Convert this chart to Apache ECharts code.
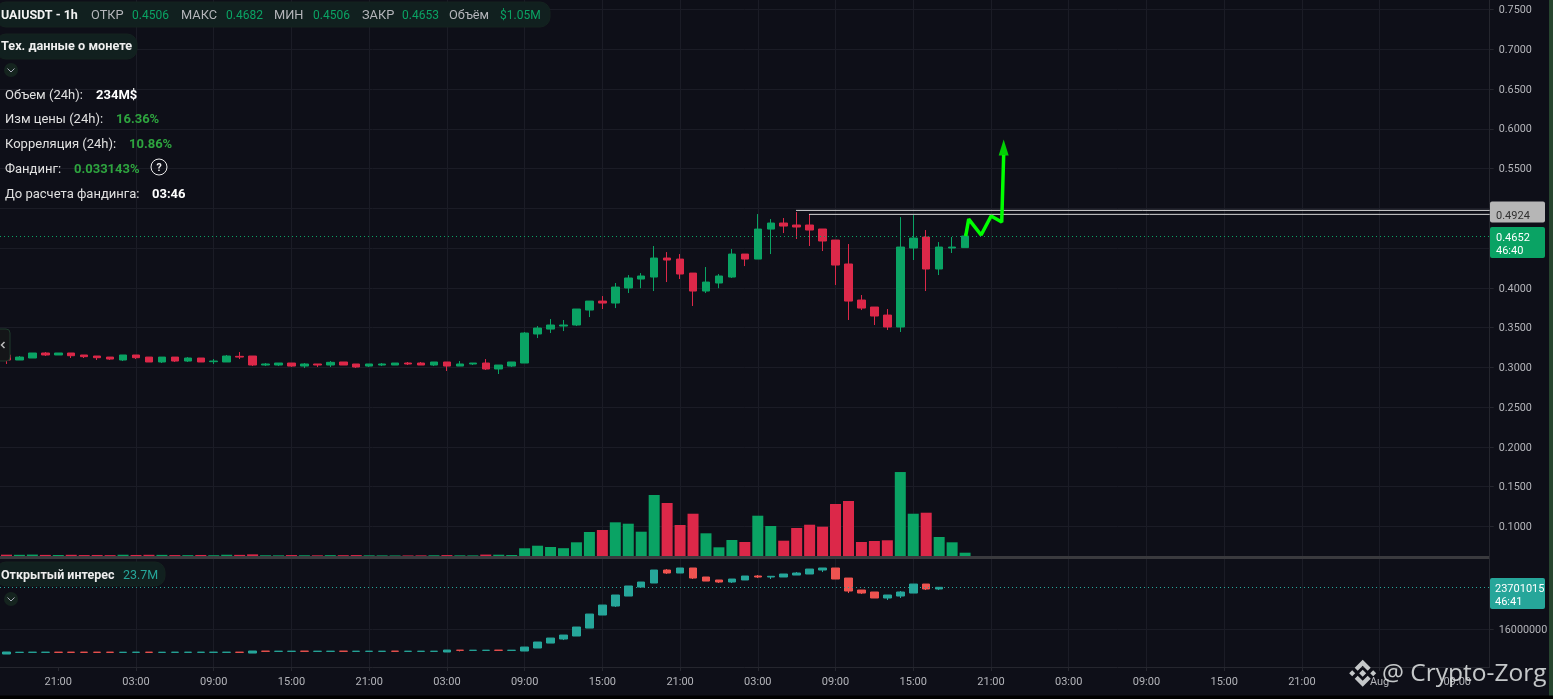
<!DOCTYPE html>
<html><head><meta charset="utf-8">
<style>html,body{margin:0;padding:0;background:#0e0f18;overflow:hidden}#c{width:1553px;height:699px}</style>
<script src="https://cdn.jsdelivr.net/npm/echarts@6/dist/echarts.min.js"></script></head>
<body><div id="c"></div>
<script>
const categories = [
'17:00','18:00','19:00','20:00','21:00','22:00','23:00','00:00','01:00','02:00','03:00','04:00','05:00','06:00','07:00','08:00','09:00','10:00','11:00','12:00','13:00','14:00','15:00','16:00',
'17:00','18:00','19:00','20:00','21:00','22:00','23:00','00:00','01:00','02:00','03:00','04:00','05:00','06:00','07:00','08:00','09:00','10:00','11:00','12:00','13:00','14:00','15:00','16:00',
'17:00','18:00','19:00','20:00','21:00','22:00','23:00','00:00','01:00','02:00','03:00','04:00','05:00','06:00','07:00','08:00','09:00','10:00','11:00','12:00','13:00','14:00','15:00','16:00',
'17:00','18:00','19:00','20:00','21:00','22:00','23:00','00:00','01:00','02:00','03:00','04:00','05:00','06:00','07:00','08:00','09:00','10:00','11:00','12:00','13:00','14:00','15:00','16:00',
'17:00','18:00','19:00','20:00','21:00','22:00','23:00','00:00','01:00','02:00','Aug','04:00','05:00','06:00','07:00','08:00','09:00','10:00','11:00'];
const tickLabels = ['21:00','03:00','09:00','15:00','Aug'];
const priceTicks = [0.75,0.7,0.65,0.6,0.55,0.5,0.45,0.4,0.35,0.3,0.25,0.2,0.15,0.1];
const oiTicks = [16000000];
// [open, close, low, high]
const priceCandles = [
[.3156,.3093,.3043,.3156],[.3093,.3130,.3093,.3143],[.3118,.3181,.3118,.3181],[.3181,.3156,.3143,.3193],[.3156,.3181,.3156,.3181],
[.3181,.3147,.3118,.3181],[.3156,.3135,.3118,.3156],[.3143,.3122,.3093,.3143],[.3130,.3105,.3093,.3130],[.3093,.3156,.3080,.3156],
[.3156,.3122,.3105,.3156],[.3130,.3068,.3068,.3130],[.3068,.3130,.3055,.3130],[.3130,.3080,.3068,.3130],[.3080,.3118,.3068,.3130],
[.3118,.3068,.3068,.3118],[.3072,.3080,.3043,.3105],[.3068,.3143,.3068,.3156],[.3139,.3130,.3105,.3193],[.3143,.3030,.3017,.3143],
[.3030,.3043,.3017,.3055],[.3030,.3055,.3017,.3055],[.3055,.3017,.3005,.3055],[.3017,.3043,.2992,.3055],[.3043,.3030,.3005,.3043],
[.3030,.3064,.3005,.3080],[.3068,.3030,.3030,.3068],[.3043,.3005,.2992,.3043],[.3017,.3043,.3005,.3043],[.3030,.3043,.3017,.3055],
[.3030,.3055,.3030,.3055],[.3055,.3043,.3030,.3068],[.3055,.3030,.3030,.3068],[.3030,.3068,.3017,.3068],[.3068,.3017,.2955,.3068],
[.3017,.3043,.3017,.3080],[.3043,.3055,.3030,.3055],[.3055,.2980,.2967,.3105],[.2980,.3030,.2917,.3030],[.3017,.3068,.3005,.3068],
[.3055,.3432,.3055,.3445],[.3420,.3495,.3369,.3520],[.3482,.3533,.3432,.3608],[.3520,.3533,.3457,.3596],[.3533,.3734,.3520,.3734],
[.3721,.3834,.3633,.3834],[.3834,.3809,.3734,.3897],[.3809,.4010,.3746,.4061],[.3998,.4124,.3935,.4161],[.4111,.4149,.3996,.4186],
[.4136,.4375,.3960,.4526],[.4375,.4350,.4073,.4450],[.4362,.4174,.4111,.4425],[.4186,.3960,.3772,.4186],[.3960,.4073,.3935,.4262],
[.4061,.4149,.3996,.4174],[.4136,.4425,.4124,.4488],[.4425,.4362,.4274,.4425],[.4362,.4739,.4362,.4928],[.4739,.4815,.4425,.4865],
[.4815,.4777,.4689,.4878],[.4790,.4765,.4614,.4953],[.4790,.4727,.4526,.4928],[.4740,.4589,.4463,.4740],[.4601,.4287,.4036,.4601],
[.4300,.3834,.3596,.4551],[.3847,.3746,.3721,.3910],[.3759,.3646,.3533,.3759],[.3658,.3508,.3470,.3734],[.3508,.4513,.3445,.4890],
[.4501,.4626,.4350,.4915],[.4639,.4237,.3960,.4727],[.4237,.4513,.4161,.4576],[.4501,.4513,.4438,.4639],[.4506,.4652,.4506,.4682]];
// volume per candle, $M
const volumes = [.42,.38,.45,.35,.32,.38,.30,.33,.28,.40,.33,.38,.36,.30,.28,.33,.25,.40,.36,.52,.24,.22,.30,.24,.22,.28,.26,.30,.22,.20,.18,.18,.20,.24,.30,.22,.20,.45,
.41,.32,2.45,3.27,2.86,2.48,4.35,7.62,8.26,10.7,10.26,7.72,19.37,16.83,9.85,13.43,7.21,2.76,5.08,4.45,12.8,9.53,4.86,8.89,9.94,9.31,16.51,17.47,4.45,4.76,4.99,26.67,13.43,13.75,6.03,4.35,1.05];
// open interest, millions: [open, close, low, high]
const oiCandles = [
[11.47,11.84,11.47,11.84],[11.77,11.79,11.77,11.79],[11.78,11.80,11.78,11.80],[11.78,11.80,11.78,11.80],[11.80,11.78,11.78,11.80],
[11.80,11.78,11.78,11.80],[11.80,11.78,11.78,11.80],[11.80,11.78,11.78,11.80],[11.80,11.78,11.78,11.80],[11.77,11.79,11.77,11.79],
[11.78,11.80,11.78,11.80],[11.80,11.78,11.78,11.80],[11.77,11.79,11.77,11.79],[11.78,11.80,11.78,11.80],[11.78,11.80,11.78,11.80],
[11.78,11.80,11.78,11.80],[11.78,11.80,11.78,11.80],[11.78,11.80,11.78,11.80],[11.80,11.78,11.78,11.80],[11.65,12.02,11.65,12.02],
[11.99,11.97,11.97,11.99],[11.96,11.98,11.96,11.98],[11.96,11.98,11.96,11.98],[11.99,11.97,11.97,11.99],[11.96,11.98,11.96,11.98],
[11.96,11.98,11.96,11.98],[11.99,11.97,11.97,11.99],[11.96,11.98,11.96,11.98],[11.96,11.98,11.96,11.98],[11.96,11.98,11.96,11.98],
[11.99,11.97,11.97,11.99],[11.96,11.98,11.96,11.98],[11.96,11.98,11.96,11.98],[11.96,11.98,11.96,11.98],[11.84,12.20,11.84,12.20],
[12.17,12.15,11.95,12.17],[12.14,12.16,12.14,12.16],[12.14,12.16,12.14,12.16],[12.17,12.15,12.15,12.17],[12.14,12.16,12.14,12.16],
[12.02,12.75,12.02,12.75],[12.57,13.67,12.57,13.67],[13.48,14.40,13.48,14.40],[14.22,14.95,14.03,14.95],[14.77,16.42,14.77,16.42],
[16.23,18.80,16.23,18.80],[18.62,20.45,18.62,20.45],[20.27,22.29,20.09,22.29],[22.10,23.94,22.10,23.94],[23.75,24.67,23.57,24.67],
[24.49,26.87,24.49,26.87],[26.87,26.32,26.14,27.05],[26.32,27.24,26.32,27.24],[27.24,25.40,25.22,27.24],[25.59,24.85,24.85,25.59],
[25.04,24.67,24.49,25.04],[24.67,25.22,24.49,25.22],[25.04,25.77,25.04,25.77],[25.77,25.59,25.40,25.95],[25.59,25.72,25.22,25.72],
[25.59,26.14,25.59,26.14],[25.95,26.32,25.95,26.50],[26.14,27.05,26.14,27.05],[26.87,27.24,26.50,27.24],[27.24,25.22,25.22,27.24],
[25.40,23.02,22.65,25.40],[23.20,22.65,22.47,23.20],[22.84,21.74,21.74,22.84],[21.74,22.29,21.37,22.29],[22.10,22.84,21.74,23.02],
[22.65,24.30,22.65,24.30],[24.30,23.39,23.20,24.30],[23.39,23.70,23.20,23.75]];
const lastPrice = 0.4652, lastOI = 23.701015;
// drawn annotations: [candle position, price]
const levelHigh = [[60.95,0.4974],[114.5,0.4974]];
const levelLow = [[61.95,0.4924],[114.5,0.4924]];
const arrowPath = [[74.05,0.4651],[74.28,0.4865],[75.24,0.4664],[76.01,0.4903],[76.83,0.4827],[76.98,0.5670]];
const arrowTip = [[76.98,0.5765]];

const UP='#0aa364',DOWN='#dc2849',OIUP='#26a69a',OIDOWN='#ef5350',GRID='#1b1c26',AXIS='#25262e',TXT='#b4b5ba',LBL='#e0e0e0';
const FONT='Roboto';
const wanted=(i,v)=>tickLabels.includes(v);
const t=(text,x,y,fill,weight,size,align)=>({type:'text',z:100,style:{text,x,y,fill,font:(weight||'normal')+' '+(size||13)+'px '+FONT,verticalAlign:'middle',align:align||'left'}});
const pill=(x,y,w,h)=>({type:'rect',z:99,shape:{x,y,width:w,height:h,r:10},style:{fill:'#11201f',stroke:'#14231f',lineWidth:1}});
const chev=(cx,cy)=>[{type:'circle',z:99,shape:{cx,cy,r:7},style:{fill:'#15241f'}},
  {type:'polyline',z:100,shape:{points:[[cx-3.5,cy-1.5],[cx,cy+2],[cx+3.5,cy-1.5]]},style:{stroke:'#aab',fill:null,lineWidth:1}}];
const tag=(x,y,w,h,fill)=>({type:'rect',z:98,shape:{x,y,width:w,height:h,r:2},style:{fill}});
const WM='rgba(222,225,225,0.88)';
const poly=(pts)=>({type:'polygon',z:110,x:1362.7,y:673.3,shape:{points:pts},style:{fill:WM}});
const overlay=[
  {type:'rect',z:90,shape:{x:0,y:556,width:1489.5,height:3},style:{fill:'#3a3a3e'}},
  {type:'rect',z:97,shape:{x:1549,y:0,width:4,height:699},style:{fill:'#27452f'}},
  {type:'rect',z:97,shape:{x:0,y:695.5,width:1553,height:3.5},style:{fill:'#000'}},
  pill(-4,2,554,25),
  t('UAIUSDT - 1h',1,16,'#f2f2f2','bold',12.5),
  t('ОТКР',91,16,TXT,'normal',12.8),t('0.4506',132,16,UP,'normal',12),
  t('МАКС',181,16,TXT,'normal',12.8),t('0.4682',226,16,UP,'normal',12),
  t('МИН',274,16,TXT,'normal',12.8),t('0.4506',313,16,UP,'normal',12),
  t('ЗАКР',362,16,TXT,'normal',12.8),t('0.4653',402,16,UP,'normal',12),
  t('Объём',449,16,TXT,'normal',12.8),t('$1.05M',500,16,UP,'normal',12),
  pill(-4,34,141,25),
  t('Тех. данные о монете',1,47,'#eeeeee','bold',12.7),
  ...chev(11,70),
  t('Объем (24h):',5,96,LBL),t('234M$',96,96,'#ffffff','bold'),
  t('Изм цены (24h):',5,120,LBL),t('16.36%',116,120,'#2ea43f','bold'),
  t('Корреляция (24h):',5,145,LBL),t('10.86%',129,145,'#2ea43f','bold'),
  t('Фандинг:',5,170,LBL),t('0.033143%',74,170,'#2ea43f','bold'),
  {type:'circle',z:100,shape:{cx:159,cy:167,r:8},style:{fill:null,stroke:'#eee',lineWidth:1}},
  t('?',159,168,'#eee','bold',10.5,'center'),
  t('До расчета фандинга:',5,195,LBL),t('03:46',152,195,'#ffffff','bold'),
  pill(-4,562,169,24),
  t('Открытый интерес',1,576,'#eeeeee','bold',12.5),t('23.7M',123,576,OIUP,'normal',12.5),
  ...chev(11,599),
  {type:'rect',z:99,shape:{x:-6,y:329,width:16,height:32,r:4},style:{fill:'#141518',stroke:'#1f3a2c',lineWidth:1}},
  {type:'polyline',z:100,shape:{points:[[4.5,342],[1.5,345],[4.5,348]]},style:{stroke:'#bbb',fill:null,lineWidth:1.5}},
  tag(1490,201.5,55,21,'#b6b6b6'),t('0.4924',1496,216,'#303030','normal',11),
  tag(1490,227,55,31,UP),t('0.4652',1496,238,'#fff','normal',11),t('46:40',1496,251,'#fff','normal',11),
  tag(1490,578,55,31,OIUP),t('23701015',1495,589,'#fff','normal',11),t('46:41',1495,602,'#fff','normal',11),
  poly([[0,-3.5],[3.5,0],[0,3.5],[-3.5,0]]),
  poly([[-10.5,-3],[-7.5,0],[-10.5,3],[-13.5,0]]),
  poly([[10.5,-3],[13.5,0],[10.5,3],[7.5,0]]),
  poly([[-8,-5.5],[0,-13.5],[8,-5.5],[5,-2.5],[0,-7.5],[-5,-2.5]]),
  poly([[-8,5.5],[0,13.5],[8,5.5],[5,2.5],[0,7.5],[-5,2.5]]),
  {type:'text',z:110,style:{text:'@ Crypto-Zorg',x:1382,y:674,fill:WM,font:'24.5px "Open Sans"',verticalAlign:'middle'}}
];
const L=-1.5, W=1491.2;
const catAxis=(grid,extra)=>Object.assign({type:'category',gridIndex:grid,data:categories,boundaryGap:true,
  axisLine:{show:false},axisTick:{show:false},axisLabel:{show:false},splitLine:{show:false}},extra);
const chart=echarts.init(document.getElementById('c'),null,{renderer:'canvas'});
chart.setOption({
  animation:false,backgroundColor:'#0e0f18',
  textStyle:{fontFamily:FONT},
  graphic:overlay,
  grid:[{left:L,top:0,width:W,height:556},{left:L,top:471,width:W,height:85},{left:L,top:559,width:W,height:108}],
  xAxis:[
    catAxis(0,{splitLine:{show:true,showMinLine:false,showMaxLine:false,interval:wanted,alignWithLabel:true,lineStyle:{color:GRID}}}),
    catAxis(1),
    catAxis(2,{axisLine:{show:true,lineStyle:{color:AXIS}},
      axisTick:{show:true,interval:wanted,alignWithLabel:true,length:4,lineStyle:{color:AXIS}},
      axisLabel:{show:true,interval:wanted,color:TXT,fontSize:11,margin:10,fontFamily:FONT},
      splitLine:{show:true,showMinLine:false,showMaxLine:false,interval:wanted,alignWithLabel:true,lineStyle:{color:GRID}}}),
    {type:'value',gridIndex:0,min:-0.5,max:114.5,show:false}
  ],
  yAxis:[
    {type:'value',gridIndex:0,position:'right',min:0.0629,max:0.7619,
      axisLine:{show:true,onZero:false,lineStyle:{color:AXIS}},
      axisTick:{show:true,length:4,customValues:priceTicks,lineStyle:{color:AXIS}},
      axisLabel:{customValues:priceTicks,color:TXT,fontSize:10.8,margin:9,verticalAlign:'top',padding:[-4.5,0,0,0],fontFamily:FONT,formatter:v=>v.toFixed(4)},
      splitLine:{show:true,customValues:priceTicks,lineStyle:{color:GRID}}},
    {type:'value',gridIndex:1,position:'right',min:0,max:27,show:false},
    {type:'value',gridIndex:2,position:'right',min:9090000,max:28890000,
      axisLine:{show:true,onZero:false,lineStyle:{color:AXIS}},
      axisTick:{show:true,length:4,customValues:oiTicks,lineStyle:{color:AXIS}},
      axisLabel:{customValues:oiTicks,color:TXT,fontSize:10.8,margin:9,verticalAlign:'top',padding:[-4.5,0,0,0],fontFamily:FONT,formatter:v=>String(v)},
      splitLine:{show:true,customValues:oiTicks,lineStyle:{color:GRID}}}
  ],
  series:[
    {type:'bar',xAxisIndex:1,yAxisIndex:1,barWidth:11,z:2,
      data:volumes.map((v,i)=>({value:v,itemStyle:{color:priceCandles[i][1]>=priceCandles[i][0]?UP:DOWN}}))},
    {type:'candlestick',xAxisIndex:0,yAxisIndex:0,barWidth:8,z:3,data:priceCandles,
      itemStyle:{color:UP,color0:DOWN,borderColor:UP,borderColor0:DOWN,borderWidth:1},
      markLine:{silent:true,symbol:'none',precision:4,label:{show:false},lineStyle:{color:UP,type:[1,3],width:1},data:[{yAxis:lastPrice}]}},
    {type:'candlestick',xAxisIndex:2,yAxisIndex:2,barWidth:8,z:3,data:oiCandles.map(r=>r.map(v=>v*1e6)),
      itemStyle:{color:OIUP,color0:OIDOWN,borderColor:OIUP,borderColor0:OIDOWN,borderWidth:1},
      markLine:{silent:true,symbol:'none',precision:0,label:{show:false},lineStyle:{color:OIUP,type:[1,3],width:1},data:[{yAxis:lastOI*1e6}]}},
    {type:'line',xAxisIndex:3,yAxisIndex:0,data:levelHigh,symbol:'none',z:5,lineStyle:{color:'#d6d6d6',width:1}},
    {type:'line',xAxisIndex:3,yAxisIndex:0,data:levelLow,symbol:'none',z:5,lineStyle:{color:'#d6d6d6',width:1}},
    {type:'line',xAxisIndex:3,yAxisIndex:0,data:arrowPath,symbol:'none',z:6,lineStyle:{color:'#00ff00',width:3.5}},
    {type:'scatter',xAxisIndex:3,yAxisIndex:0,data:arrowTip,symbol:'triangle',symbolSize:[10,16],z:6,itemStyle:{color:'#00ff00'}}
  ]
});
</script></body></html>
